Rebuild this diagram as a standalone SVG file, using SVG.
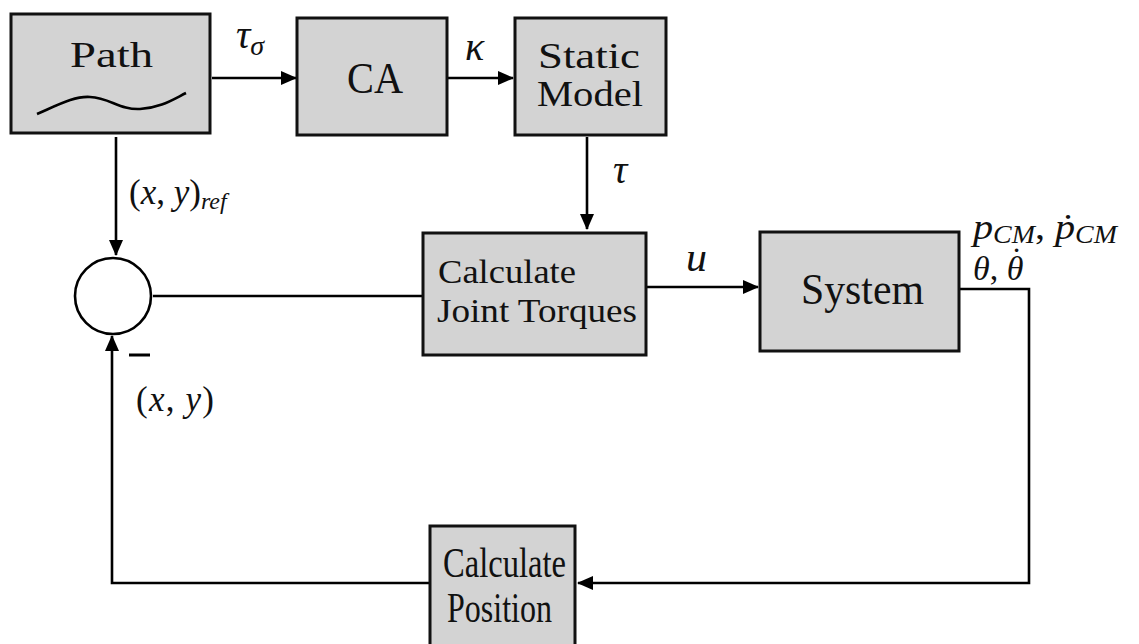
<svg xmlns="http://www.w3.org/2000/svg" width="1139" height="644" viewBox="0 0 1139 644">
<style>
.box{fill:#d3d3d3;stroke:#111;stroke-width:3}
.ln{fill:none;stroke:#000;stroke-width:2.6}
.t{font-family:"Liberation Serif","Times New Roman",serif;fill:#111}
.m{font-family:"Liberation Serif","Times New Roman",serif;font-style:italic;fill:#111}
.u{font-style:normal}
</style>
<defs>
<marker id="ah" markerUnits="userSpaceOnUse" markerWidth="16" markerHeight="14" refX="15" refY="7" orient="auto">
<path d="M0,0 L16,7 L0,14 Z" fill="#000"/>
</marker>
</defs>
<rect width="1139" height="644" fill="#fff"/>
<g id="connectors">
<line class="ln" x1="212" y1="78" x2="296" y2="78" marker-end="url(#ah)"/>
<line class="ln" x1="448" y1="78" x2="513" y2="78" marker-end="url(#ah)"/>
<line class="ln" x1="587" y1="137" x2="587" y2="229" marker-end="url(#ah)"/>
<line class="ln" x1="116" y1="137" x2="116" y2="255" marker-end="url(#ah)"/>
<line class="ln" x1="153" y1="296" x2="423" y2="296"/>
<line class="ln" x1="647" y1="287" x2="758" y2="287" marker-end="url(#ah)"/>
<polyline class="ln" points="959,289 1029,289 1029,583 578,583" marker-end="url(#ah)"/>
<polyline class="ln" points="429,583 112,583 112,336" marker-end="url(#ah)"/>
<line x1="129" y1="355" x2="150" y2="355" stroke="#000" stroke-width="3"/>
<text class="m" x="236" y="48" font-size="40">τ<tspan font-size="28" dy="7">σ</tspan></text>
<text class="m" x="465" y="60" font-size="40">κ</text>
<text class="m" x="613" y="183" font-size="40">τ</text>
<text class="m" x="686" y="271" font-size="42">u</text>
<text class="m" x="129" y="204" font-size="35"><tspan class="u">(</tspan>x<tspan class="u">, </tspan>y<tspan class="u">)</tspan><tspan font-size="24" dy="5">ref</tspan></text>
<text class="m" x="136" y="411" font-size="35" textLength="78"><tspan class="u">(</tspan>x<tspan class="u">, </tspan>y<tspan class="u">)</tspan></text>
<text class="m" x="973" y="239" font-size="36" textLength="144" lengthAdjust="spacingAndGlyphs">p<tspan font-size="25" dy="4">CM</tspan><tspan dy="-4" class="u">, </tspan>ṗ<tspan font-size="25" dy="4">CM</tspan></text>
<text class="m" x="973" y="280" font-size="34">θ<tspan class="u">, </tspan>θ</text>
<text class="m" x="1009" y="271" font-size="33">˙</text>
</g>
<g id="path">
<rect class="box" x="11" y="14" width="199" height="119"/>
<text class="t" x="70" y="67" font-size="35" textLength="83" lengthAdjust="spacingAndGlyphs">Path</text>
<path d="M37,114 C60,104 75,96 90,97 C110,98 120,110 140,109 C160,108 172,100 186,93" fill="none" stroke="#000" stroke-width="2.6"/>
</g>
<g id="ca">
<rect class="box" x="297" y="18" width="150" height="117"/>
<text class="t" x="347" y="93" font-size="44" textLength="56" lengthAdjust="spacingAndGlyphs">CA</text>
</g>
<g id="static-model">
<rect class="box" x="515" y="18" width="151" height="117"/>
<text class="t" x="538" y="68" font-size="36" textLength="102" lengthAdjust="spacingAndGlyphs">Static</text>
<text class="t" x="537" y="106" font-size="36" textLength="106" lengthAdjust="spacingAndGlyphs">Model</text>
</g>
<g id="sum">
<circle cx="113" cy="296" r="38" fill="#fff" stroke="#000" stroke-width="2.6"/>
</g>
<g id="joint-torques">
<rect class="box" x="423" y="233" width="223" height="122"/>
<text class="t" x="438" y="283" font-size="33" textLength="138" lengthAdjust="spacingAndGlyphs">Calculate</text>
<text class="t" x="437" y="322" font-size="33" textLength="200" lengthAdjust="spacingAndGlyphs">Joint Torques</text>
</g>
<g id="system">
<rect class="box" x="760" y="232" width="199" height="119"/>
<text class="t" x="801" y="304" font-size="45" textLength="123" lengthAdjust="spacingAndGlyphs">System</text>
</g>
<g id="calc-position">
<rect class="box" x="430" y="526" width="145" height="130"/>
<text class="t" x="443" y="577" font-size="42" textLength="123" lengthAdjust="spacingAndGlyphs">Calculate</text>
<text class="t" x="447" y="622" font-size="42" textLength="105" lengthAdjust="spacingAndGlyphs">Position</text>
</g>
</svg>
